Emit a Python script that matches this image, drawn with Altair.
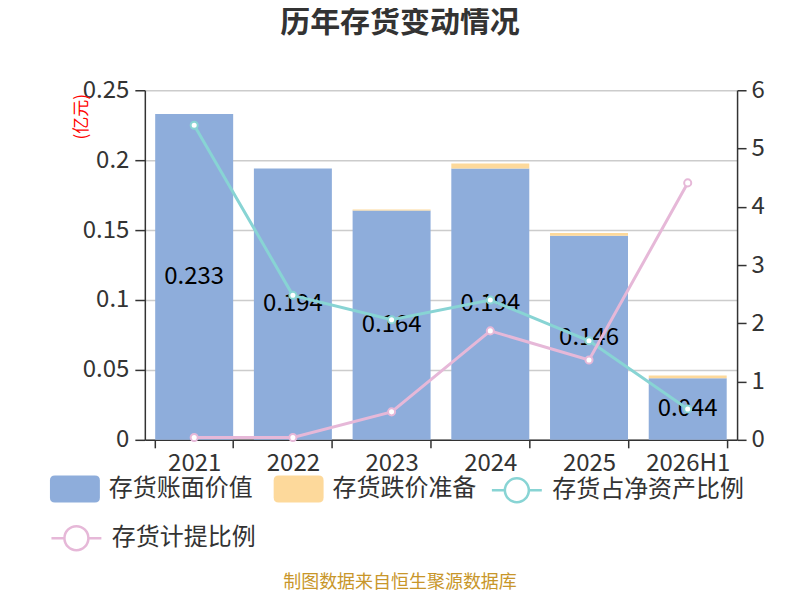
import altair as alt
import pandas as pd

years = ["2021", "2022", "2023", "2024", "2025", "2026H1"]
book_value = [0.233, 0.194, 0.164, 0.194, 0.146, 0.044]
impairment = [0.0001, 0.0001, 0.0008, 0.0037, 0.0020, 0.0020]
net_asset_ratio = [5.40, 2.48, 2.06, 2.40, 1.70, 0.53]
provision_ratio = [0.04, 0.04, 0.48, 1.87, 1.37, 4.41]

series_bar = ["存货账面价值", "存货跌价准备"]
series_line = ["存货占净资产比例", "存货计提比例"]
left_ticks = [0, 0.05, 0.1, 0.15, 0.2, 0.25]
right_ticks = [0, 1, 2, 3, 4, 5, 6]

FONT = "Noto Sans CJK SC"
BLUE = "#8EADDB"
ORANGE = "#FDD99B"
TEAL = "#88D4D4"
PINK = "#E6B8D8"
DARK = "#333333"

RECT_PATH = ("M-0.8,-0.54 L0.8,-0.54 Q1,-0.54 1,-0.34 L1,0.34 Q1,0.54 0.8,0.54 "
             "L-0.8,0.54 Q-1,0.54 -1,0.34 L-1,-0.34 Q-1,-0.54 -0.8,-0.54 Z")
LINE_PATH = ("M-1,0 L-0.48,0 M0.48,0 L1,0 M0.48,0 "
             "A0.48,0.48 0 1 1 -0.48,0 A0.48,0.48 0 1 1 0.48,0")

bars_df = pd.DataFrame({
    "year": years * 2,
    "series": [series_bar[0]] * len(years) + [series_bar[1]] * len(years),
    "value": book_value + impairment,
    "ord": [0] * len(years) + [1] * len(years),
})
label_df = pd.DataFrame({"year": years, "book": book_value})
line1_df = pd.DataFrame({"year": years, "ratio": net_asset_ratio, "series": series_line[0]})
line2_df = pd.DataFrame({"year": years, "ratio": provision_ratio, "series": series_line[1]})


def legend(x, y, symbol, stroke_w):
    return alt.Legend(
        title=None, orient="none", legendX=x, legendY=y, direction="horizontal",
        symbolType=symbol, symbolSize=2500, symbolStrokeWidth=stroke_w,
        labelFont=FONT, labelFontSize=24, labelColor=DARK, labelOffset=9,
        labelLimit=400, columnPadding=21, padding=0,
    )


x_enc = alt.X(
    "year:N", sort=years,
    scale=alt.Scale(paddingInner=0.21, paddingOuter=0.105),
    axis=alt.Axis(
        title="制图数据来自恒生聚源数据库", titleFont=FONT, titleFontSize=18,
        titleFontWeight="normal", titleColor="#C8962A", titleX=255, titleY=143,
        titleAlign="center", titleBaseline="middle",
        labelAngle=0, labelFont=FONT, labelFontSize=24, labelColor=DARK,
        labelPadding=4, tickBand="extent", tickSize=8, tickColor=DARK,
        domainColor=DARK, domainWidth=1.5, tickWidth=1.5, grid=False,
    ),
)

left_axis = alt.Axis(
    values=left_ticks, format="~g", title="(亿元)", titleColor="red",
    titleFont=FONT, titleFontSize=17, titleFontWeight="normal",
    titleX=-63, titleY=26, titleAlign="center", titleBaseline="middle",
    labelFont=FONT, labelFontSize=24, labelColor=DARK, labelPadding=6,
    tickSize=10, tickColor=DARK, tickWidth=1.5, domainColor=DARK,
    domainWidth=1.5, grid=True, gridColor="#CCCCCC", gridWidth=1.5,
)
left_scale = alt.Scale(domain=[0, 0.25], nice=False)

bars = alt.Chart(bars_df).mark_bar().encode(
    x=x_enc,
    y=alt.Y("value:Q", stack="zero", scale=left_scale, axis=left_axis),
    fill=alt.Fill("series:N", scale=alt.Scale(domain=series_bar, range=[BLUE, ORANGE]),
                  legend=legend(-95, 374, RECT_PATH, 0)),
    order=alt.Order("ord:Q"),
)

labels = alt.Chart(label_df).transform_calculate(
    value="datum.book / 2"
).mark_text(font=FONT, fontSize=24, color="black").encode(
    x=alt.X("year:N", sort=years),
    y=alt.Y("value:Q", scale=left_scale, axis=left_axis),
    text=alt.Text("book:Q", format=".3f"),
)


def line_layer(df, color, lx, ly):
    return alt.Chart(df).mark_line(
        strokeWidth=3,
        point=alt.OverlayMarkDef(filled=True, fill="white", size=50, strokeWidth=2),
    ).encode(
        x=alt.X("year:N", sort=years),
        y=alt.Y(
            "ratio:Q", scale=alt.Scale(domain=[0, 6], nice=False),
            axis=alt.Axis(
                orient="right", values=right_ticks, title=None, grid=False,
                labelFont=FONT, labelFontSize=24, labelColor=DARK, labelPadding=5,
                tickSize=9, tickColor=DARK, tickWidth=1.5, domainColor=DARK,
                domainWidth=1.5,
            ),
        ),
        stroke=alt.Stroke("series:N", scale=alt.Scale(domain=[df["series"][0]], range=[color]),
                          legend=legend(lx, ly, LINE_PATH, 2.5)),
    )


left = alt.layer(bars, labels)
right = alt.layer(
    line_layer(line1_df, TEAL, 346, 374),
    line_layer(line2_df, PINK, -95, 422),
).resolve_scale(stroke="independent")

chart = alt.layer(left, right).resolve_scale(y="independent").properties(
    width=593, height=350,
    autosize=alt.AutoSizeParams(type="none"),
    padding={"left": 137, "top": 82, "right": 55, "bottom": 152},
    title=alt.TitleParams(
        "历年存货变动情况", font=FONT, fontSize=30, fontWeight="bold",
        color=DARK, anchor="middle", dx=-41, offset=40,
    ),
).configure(background="white").configure_view(strokeWidth=0)

chart.save("out.html", embed_options={"renderer": "svg", "actions": False})
